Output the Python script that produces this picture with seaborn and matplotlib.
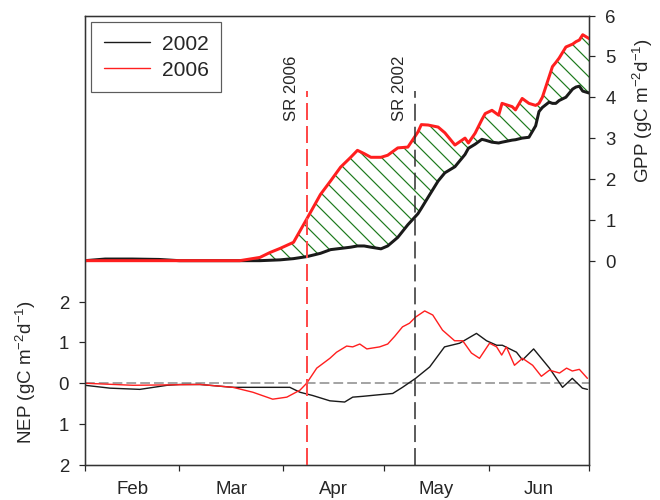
import numpy as np
import matplotlib
matplotlib.use('Agg')
import matplotlib.pyplot as plt
import seaborn as sns
from matplotlib.lines import Line2D

# day of year, GPP (gC m-2 d-1) for both years on one grid
gpp_days = [32, 38, 46, 54, 60, 70, 78, 84, 87, 90, 94, 98, 102, 105, 108, 111,
            113, 115, 117, 120, 122, 125, 128, 131, 132, 134, 137, 139, 142, 145,
            146, 148, 150, 151, 153, 155, 156, 159, 160, 162, 164, 166, 167, 168,
            170, 171, 172, 173, 175, 177, 178, 179, 180, 182]
gpp_2006 = [0, 0, 0, 0, 0, 0, 0, 0.08, 0.2, 0.3, 0.45, 1.03, 1.62, 1.95, 2.29, 2.53,
            2.70, 2.62, 2.53, 2.53, 2.58, 2.76, 2.78, 3.15, 3.33, 3.32, 3.27, 3.13, 2.83, 3.0,
            2.88, 3.12, 3.45, 3.6, 3.68, 3.56, 3.85, 3.77, 3.69, 3.97, 3.85, 3.8, 3.85, 4.0,
            4.5, 4.75, 4.85, 4.96, 5.23, 5.3, 5.36, 5.4, 5.53, 5.43]
gpp_2002 = [0, 0.04, 0.04, 0.03, 0, 0, 0, 0, 0.01, 0.02, 0.05, 0.1, 0.18, 0.27, 0.3, 0.33,
            0.36, 0.36, 0.33, 0.29, 0.36, 0.57, 0.88, 1.15, 1.28, 1.55, 1.95, 2.15, 2.3, 2.6,
            2.75, 2.85, 2.97, 2.95, 2.9, 2.88, 2.9, 2.95, 2.96, 3.0, 3.02, 3.3, 3.65, 3.75,
            3.88, 3.85, 3.85, 3.92, 4.0, 4.2, 4.25, 4.27, 4.15, 4.1]

# NEP (gC m-2 d-1)
nep_days_2002 = [32, 39.4, 48.3, 56.4, 60.2, 66.2, 76, 92.9, 95.9, 99.7,
                 104.8, 109.2, 111.6, 114.6, 119.6, 123.5, 126.4, 130.3, 134.5, 138.9,
                 143.4, 148.4, 151.4, 154.4, 156.1, 160.3, 162.1, 165.4, 170.1, 174,
                 176.9, 179.9, 181.4]
nep_2002 = [-0.05, -0.12, -0.15, -0.05, -0.03, -0.03, -0.1, -0.1, -0.22, -0.3,
            -0.43, -0.46, -0.34, -0.32, -0.28, -0.25, -0.1, 0.12, 0.4, 0.89,
            0.98, 1.22, 1.04, 0.93, 0.93, 0.76, 0.57, 0.84, 0.37, -0.1,
            0.12, -0.12, -0.15]
nep_days_2006 = [32, 46.3, 66.2, 76, 81.9, 87.8, 92, 95.9, 97.9, 100.9,
                 104.8, 106.8, 109.8, 111.6, 113.7, 115.8, 119.6, 122, 124.1, 126.4,
                 128.5, 130.3, 133, 135.4, 138.3, 141.9, 144.3, 146.9, 149.3, 152.3,
                 154.4, 155.9, 157.3, 159.7, 162.1, 165.1, 167.7, 170.1, 173.1, 175.2,
                 176.9, 179, 181.4]
nep_2006 = [0, -0.05, -0.03, -0.1, -0.22, -0.39, -0.34, -0.17, 0, 0.37,
            0.61, 0.76, 0.91, 0.89, 0.96, 0.84, 0.89, 0.96, 1.15, 1.38,
            1.47, 1.62, 1.77, 1.67, 1.3, 1.04, 1.04, 0.74, 0.61, 0.98,
            0.89, 0.69, 0.89, 0.44, 0.61, 0.44, 0.17, 0.32, 0.25, 0.37,
            0.3, 0.34, 0.12]

# start of season (SR) markers
sr_days = [98, 130]
sr_labels = ['SR 2006', 'SR 2002']
sr_top = 4.15

month_edges = [32, 60, 91, 121, 152, 182]
month_mid = [46, 75.5, 106, 136.5, 167]
months = ['Feb', 'Mar', 'Apr', 'May', 'Jun']

nep_ticks = [-2, -1, 0, 1, 2]
nep_ticklabels = ['2', '1', '0', '1', '2']
gpp_ticks = [0, 1, 2, 3, 4, 5, 6]

c_black = '#1a1a1a'
c_red = '#ff1f1f'
c_green = '#1e7a1e'

sns.set_style('ticks')
plt.rcParams['font.family'] = ['Liberation Sans', 'DejaVu Sans']
plt.rcParams['mathtext.fontset'] = 'custom'
plt.rcParams['mathtext.rm'] = 'Liberation Sans'
plt.rcParams['mathtext.it'] = 'Liberation Sans:italic'
plt.rcParams['hatch.linewidth'] = 0.6
plt.rcParams['hatch.color'] = c_green

dpi = 144
fig = plt.figure(figsize=(660.5 / dpi, 500.5 / dpi), dpi=dpi)
ax = fig.add_axes([85 / 660, 35 / 500, 504 / 660, 449 / 500])
ax2 = ax.twinx()

# NEP panel (left axis)
ax.axhline(0, color='#888888', lw=0.75, ls=(0, (6.5, 2.7)), zorder=1)
sns.lineplot(x=nep_days_2002, y=nep_2002, ax=ax, color=c_black, lw=0.7,
             estimator=None, sort=False)
sns.lineplot(x=nep_days_2006, y=nep_2006, ax=ax, color=c_red, lw=0.7,
             estimator=None, sort=False)
ax.set_xlim(32, 182)
ax.set_ylim(-2, 9)
ax.set_yticks(nep_ticks)
ax.set_yticklabels(nep_ticklabels)
ax.set_xticks(month_edges)
ax.set_xticklabels([])
ax.set_xticks(month_mid, minor=True)
ax.set_xticklabels(months, minor=True)
ax.tick_params(axis='x', which='major', direction='out', length=3, width=0.6)
ax.tick_params(axis='x', which='minor', length=0, pad=8, labelsize=9.3)
ax.tick_params(axis='y', direction='out', length=3, width=0.6, pad=5, labelsize=9.3)
ax.set_ylabel(r'NEP (gC m$^{-2}$d$^{-1}$)', fontsize=9.4)
ax.yaxis.set_label_coords(-0.093, 0.207)

# GPP panel (right axis)
g02 = np.array(gpp_2002)
g06 = np.array(gpp_2006)
ax2.fill_between(gpp_days, g02, g06, where=g06 >= g02, interpolate=True,
                 facecolor='none', edgecolor=c_green, hatch='\\\\\\', lw=0)
sns.lineplot(x=gpp_days, y=gpp_2002, ax=ax2, color=c_black, lw=1.5,
             estimator=None, sort=False)
sns.lineplot(x=gpp_days, y=gpp_2006, ax=ax2, color=c_red, lw=1.5,
             estimator=None, sort=False)
ax2.set_ylim(-5, 6)
ax2.set_yticks(gpp_ticks)
ax2.tick_params(axis='y', direction='out', length=3, width=0.6, pad=5, labelsize=9.3)
ax2.set_ylabel(r'GPP (gC m$^{-2}$d$^{-1}$)', fontsize=9.4)
ax2.yaxis.set_label_coords(1.083, 0.79)

# SR lines
sr_styles = [('#ff4a4a', 1.0, (0, (8.5, 3))), ('#2a2a2a', 0.75, (0, (11.3, 4)))]
for d, lab, (col, lw, ls) in zip(sr_days, sr_labels, sr_styles):
    ax2.plot([d, d], [-5, sr_top], color=col, lw=lw, ls=ls)
    ax2.annotate(lab, xy=(d, sr_top), xytext=(-7.5, 1.5), textcoords='offset points',
                 rotation=90, ha='center', va='center', fontsize=8.4)

for a in (ax, ax2):
    for s in a.spines.values():
        s.set_visible(True)
        s.set_linewidth(0.65)
        s.set_color('#333333')

handles = [Line2D([], [], color=c_black, lw=0.7), Line2D([], [], color=c_red, lw=0.7)]
leg = ax2.legend(handles=handles, labels=['2002', '2006'], loc='upper left',
                 bbox_to_anchor=(6 / 504, 1 - 6 / 449), borderaxespad=0,
                 frameon=True, fancybox=False, edgecolor='#333333', fontsize=10.5,
                 handlelength=2.2, handletextpad=0.57, borderpad=0.6,
                 labelspacing=0.35)
leg.get_frame().set_linewidth(0.6)

fig.savefig('out.png', dpi=dpi)
